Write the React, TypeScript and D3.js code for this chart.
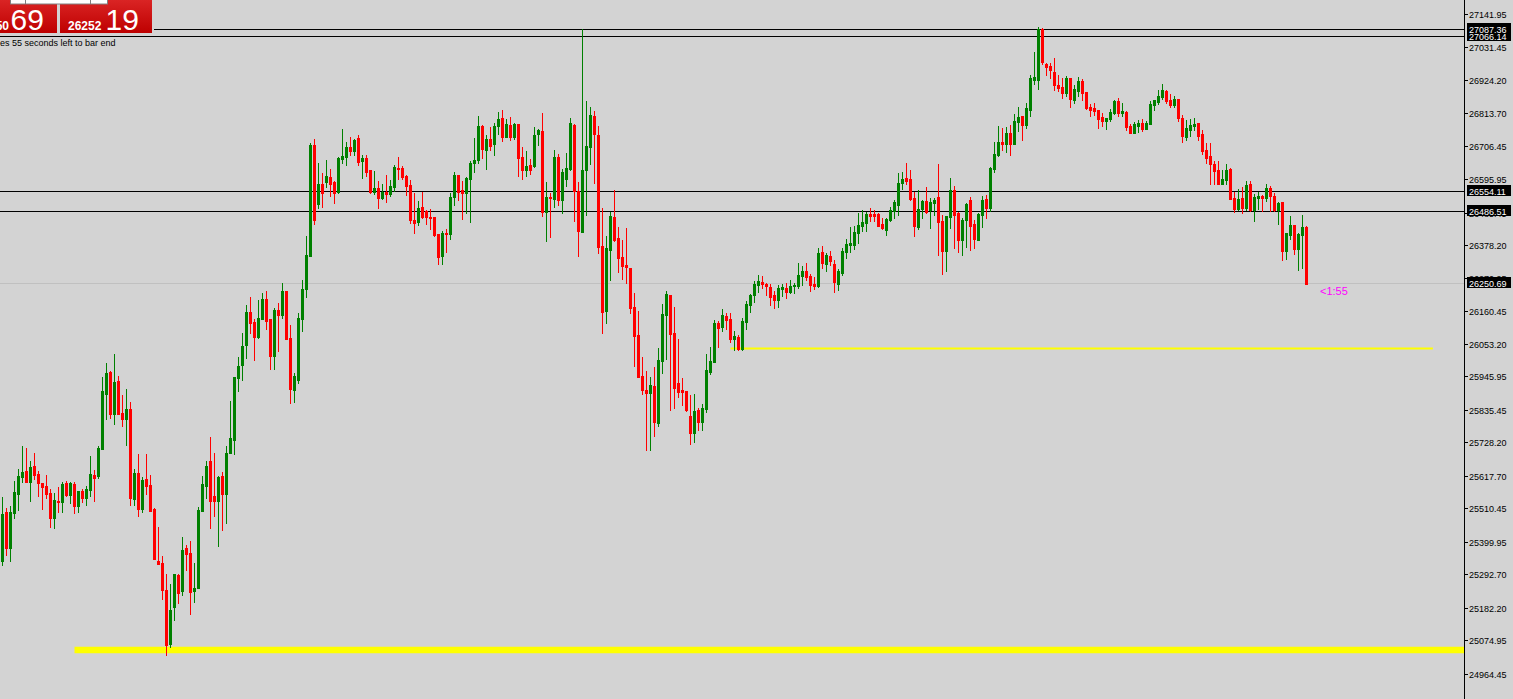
import React from 'react';
import * as d3 from 'd3';

// Each candle: [open, high, low, close]
const ohlc: [number, number, number, number][] = [
  [25337,25548,25324,25492],[25498,25512,25357,25380],[25380,25518,25337,25498],[25495,25601,25479,25564],
  [25558,25640,25505,25617],[25614,25716,25597,25630],[25634,25710,25597,25597],[25597,25667,25535,25647],
  [25650,25693,25607,25621],[25624,25634,25551,25594],[25594,25594,25508,25581],[25584,25621,25545,25558],
  [25561,25574,25449,25479],[25479,25561,25446,25538],[25535,25581,25498,25531],[25531,25597,25498,25591],
  [25594,25601,25551,25554],[25554,25597,25528,25594],[25591,25597,25495,25518],[25518,25568,25498,25568],
  [25568,25574,25531,25545],[25545,25584,25521,25574],[25571,25683,25551,25624],[25621,25637,25535,25611],
  [25617,25716,25611,25710],[25706,25944,25706,25898],[25888,25990,25805,25957],[25960,25964,25809,25822],
  [25822,26020,25789,25927],[25931,25947,25822,25822],[25825,25885,25782,25805],[25805,25904,25720,25838],
  [25838,25861,25521,25545],[25541,25640,25521,25627],[25627,25690,25485,25508],[25508,25614,25498,25604],
  [25607,25690,25558,25584],[25588,25621,25502,25502],[25508,25512,25343,25343],[25337,25449,25327,25327],
  [25330,25353,25211,25241],[25241,25294,25027,25060],[25063,25261,25053,25175],[25185,25294,25142,25294],
  [25291,25294,25198,25231],[25238,25416,25225,25373],[25380,25390,25307,25360],[25363,25403,25162,25234],
  [25238,25330,25201,25248],[25248,25515,25248,25505],[25502,25617,25502,25591],[25584,25667,25545,25650],
  [25667,25746,25446,25535],[25551,25693,25485,25535],[25535,25617,25386,25614],[25617,25630,25439,25558],
  [25558,25716,25462,25693],[25693,25865,25693,25743],[25736,25944,25690,25944],[25941,26010,25898,25980],
  [25984,26089,25934,26046],[26050,26182,26007,26158],[26158,26208,26089,26122],[26125,26135,26000,26076],
  [26076,26198,26073,26139],[26135,26221,26135,26201],[26201,26228,26102,26129],[26135,26135,25970,26013],
  [26013,26172,25970,26165],[26165,26188,26030,26149],[26149,26254,26139,26228],[26228,26228,26069,26069],
  [26073,26116,25858,25904],[25901,25957,25861,25947],[25934,26155,25924,26139],[26135,26264,26096,26234],
  [26234,26409,26208,26347],[26343,26716,26343,26710],[26710,26729,26449,26462],[26515,26650,26502,26581],
  [26581,26617,26505,26551],[26587,26660,26571,26607],[26604,26630,26541,26581],[26587,26591,26518,26551],
  [26554,26670,26551,26667],[26663,26762,26650,26673],[26670,26719,26644,26703],[26703,26736,26677,26690],
  [26690,26729,26677,26726],[26733,26743,26644,26653],[26657,26677,26601,26667],[26667,26677,26607,26620],
  [26627,26627,26551,26554],[26554,26624,26548,26568],[26568,26591,26502,26535],[26535,26581,26531,26554],
  [26554,26611,26521,26548],[26548,26594,26541,26574],[26571,26644,26558,26637],[26634,26670,26597,26630],
  [26634,26640,26597,26604],[26607,26611,26545,26574],[26578,26594,26452,26462],[26462,26551,26419,26452],
  [26455,26525,26446,26502],[26505,26554,26469,26472],[26492,26495,26449,26472],[26472,26498,26432,26469],
  [26472,26472,26409,26413],[26416,26416,26317,26340],[26343,26426,26317,26419],[26419,26432,26356,26416],
  [26416,26551,26399,26538],[26538,26620,26512,26611],[26611,26611,26528,26554],[26561,26591,26465,26551],
  [26551,26604,26485,26601],[26597,26657,26455,26650],[26650,26733,26620,26660],[26660,26805,26650,26772],
  [26772,26776,26667,26696],[26693,26743,26630,26729],[26729,26769,26693,26706],[26713,26782,26677,26772],
  [26772,26818,26746,26795],[26799,26825,26723,26736],[26736,26795,26736,26779],[26776,26802,26726,26736],
  [26736,26782,26729,26779],[26779,26779,26607,26667],[26670,26703,26597,26627],[26627,26690,26607,26640],
  [26644,26663,26614,26627],[26640,26769,26637,26743],[26746,26762,26710,26759],[26756,26815,26475,26488],
  [26488,26587,26393,26538],[26538,26551,26406,26535],[26531,26693,26505,26670],[26670,26680,26512,26528],
  [26528,26630,26485,26620],[26597,26683,26574,26634],[26630,26799,26627,26782],[26776,26779,26459,26558],
  [26558,26587,26343,26426],[26422,27092,26422,26627],[26627,26855,26479,26706],[26703,26835,26647,26809],
  [26805,26822,26584,26746],[26743,26772,26353,26373],[26376,26502,26089,26158],[26162,26409,26122,26370],
  [26363,26488,26264,26475],[26472,26561,26393,26396],[26403,26439,26290,26337],[26340,26396,26267,26310],
  [26314,26436,26254,26307],[26304,26304,26155,26172],[26175,26221,25980,26079],[26083,26162,25944,25944],
  [25947,26010,25888,25901],[25901,25964,25703,25891],[25891,25944,25703,25918],[25914,25977,25749,25795],
  [25792,26040,25782,26000],[25997,26185,25957,26152],[26149,26228,26003,26218],[26215,26215,25835,26086],
  [26089,26175,25842,25908],[25924,26069,25878,25894],[25901,25941,25852,25894],[25898,25898,25832,25835],
  [25815,25885,25723,25759],[25759,25888,25729,25832],[25835,25842,25769,25795],[25795,25855,25769,25842],
  [25838,26020,25828,25967],[25960,26043,25954,25997],[25993,26132,25993,26122],[26122,26129,26043,26106],
  [26109,26168,26096,26149],[26145,26155,26102,26132],[26135,26155,26059,26069],[26069,26096,26033,26079],
  [26076,26083,26033,26036],[26036,26139,26033,26129],[26125,26195,26102,26185],[26182,26218,26158,26215],
  [26215,26261,26191,26251],[26248,26281,26224,26261],[26257,26277,26238,26251],[26251,26254,26215,26244],
  [26241,26251,26182,26208],[26215,26228,26172,26198],[26198,26248,26175,26238],[26234,26251,26211,26241],
  [26238,26254,26205,26224],[26224,26264,26221,26244],[26244,26254,26221,26248],[26244,26320,26238,26281],
  [26277,26310,26248,26294],[26294,26320,26264,26274],[26277,26284,26228,26248],[26251,26274,26234,26244],
  [26244,26370,26241,26353],[26356,26376,26304,26320],[26317,26353,26294,26347],[26343,26360,26314,26327],
  [26317,26330,26224,26257],[26251,26300,26231,26294],[26287,26370,26281,26360],[26356,26399,26337,26383],
  [26380,26439,26356,26386],[26380,26442,26366,26422],[26419,26485,26386,26446],[26442,26495,26426,26455],
  [26452,26488,26426,26482],[26482,26502,26459,26475],[26482,26495,26459,26475],[26482,26485,26442,26442],
  [26449,26469,26432,26436],[26429,26469,26413,26465],[26462,26505,26459,26495],[26492,26528,26469,26521],
  [26512,26617,26479,26584],[26584,26620,26564,26597],[26601,26650,26581,26591],[26597,26627,26528,26531],
  [26535,26554,26409,26442],[26439,26561,26432,26498],[26498,26528,26469,26525],[26525,26571,26485,26488],
  [26495,26535,26436,26521],[26518,26535,26479,26528],[26538,26647,26347,26455],[26459,26479,26284,26360],
  [26360,26475,26294,26475],[26472,26601,26436,26561],[26561,26574,26370,26479],[26485,26488,26356,26396],
  [26396,26469,26347,26462],[26462,26518,26373,26515],[26528,26538,26363,26442],[26449,26462,26370,26399],
  [26396,26485,26396,26482],[26479,26541,26439,26528],[26531,26545,26469,26502],[26502,26637,26492,26634],
  [26630,26719,26620,26680],[26677,26772,26673,26719],[26719,26766,26693,26713],[26713,26769,26686,26749],
  [26749,26776,26677,26713],[26713,26812,26713,26789],[26785,26835,26756,26802],[26805,26805,26726,26776],
  [26776,26848,26766,26832],[26825,26941,26805,26931],[26924,27016,26911,26934],[26924,27099,26894,27092],
  [27092,27096,26977,26983],[26977,26980,26941,26967],[26970,26980,26931,26957],[26950,26997,26891,26908],
  [26908,26941,26888,26898],[26901,26931,26865,26881],[26881,26937,26871,26931],[26931,26931,26835,26861],
  [26858,26908,26848,26894],[26888,26934,26871,26921],[26921,26927,26858,26881],[26884,26884,26828,26832],
  [26835,26845,26805,26825],[26832,26848,26809,26822],[26825,26825,26766,26795],[26802,26815,26772,26789],
  [26789,26799,26762,26799],[26795,26828,26789,26818],[26815,26858,26812,26855],[26855,26865,26805,26815],
  [26815,26848,26805,26822],[26818,26822,26759,26769],[26772,26779,26749,26749],[26749,26785,26749,26779],
  [26772,26792,26752,26782],[26782,26795,26756,26762],[26762,26789,26762,26782],[26779,26855,26779,26845],
  [26842,26858,26825,26858],[26851,26891,26845,26871],[26868,26911,26861,26891],[26888,26891,26848,26855],
  [26858,26878,26835,26842],[26842,26871,26835,26861],[26861,26861,26789,26799],[26799,26809,26719,26739],
  [26736,26792,26726,26766],[26759,26795,26739,26776],[26772,26799,26759,26779],[26782,26782,26726,26739],
  [26746,26759,26680,26690],[26693,26716,26650,26667],[26673,26716,26581,26647],[26647,26657,26581,26624],
  [26627,26657,26581,26581],[26581,26627,26581,26597],[26594,26647,26581,26627],[26630,26634,26531,26531],
  [26535,26554,26488,26498],[26498,26564,26495,26531],[26535,26571,26485,26502],[26502,26591,26495,26578],
  [26581,26591,26492,26495],[26495,26548,26459,26538],[26535,26554,26498,26541],[26541,26545,26492,26535],
  [26535,26581,26525,26568],[26568,26574,26492,26541],[26541,26551,26492,26495],[26495,26521,26449,26518],
  [26521,26521,26330,26360],[26360,26419,26333,26419],[26413,26475,26399,26446],[26446,26446,26350,26366],
  [26366,26419,26297,26416],[26413,26479,26304,26439],[26439,26442,26250.69,26250.69],
];

const axisTicks = [
  27141.95, 27031.45, 26924.2, 26813.7, 26706.45, 26595.95, 26485.45, 26378.2, 26270.95, 26160.45,
  26053.2, 25945.95, 25835.45, 25728.2, 25617.7, 25510.45, 25399.95, 25292.7, 25182.2, 25074.95, 24964.45,
];

// horizontal black price lines (drawn in this order; later labels overlay earlier)
const hLines = [27066.14, 27087.36, 26554.11, 26486.51];
const bidPrice = 26250.69;

// yellow support levels: price, start bar, end bar
const yellowPrices = [26038, 25043];
const yellowFromBar = [182, 18];
const yellowToBar = [357.6, 370];

const bidText = { big: '69', small: '26250' };
const askText = { big: '19', small: '26252' };
const timerText = 'es 55 seconds left to bar end';
const countdown = '<1:55';

const BG = '#D3D3D3';
const UP = '#008000';
const DOWN = '#FF0000';
const FONT = '"Liberation Sans", Arial, sans-serif';

export default function App() {
  const W = 1513;
  const H = 699;
  const axisX = 1464;
  const x = d3.scaleLinear().domain([0, ohlc.length - 1]).range([2.5, 2.5 + 4 * (ohlc.length - 1)]);
  const y = d3.scaleLinear().domain([24964.45, 27141.95]).range([673.8, 13.95]);
  const row = (p: number) => Math.floor(y(p) - 0.9);

  const candles = ohlc.map((d, i) => {
    const [o, h, l, c] = d;
    const cx = x(i);
    const up = c >= o;
    const color = up ? UP : DOWN;
    const top = Math.round(y(Math.max(o, c)));
    const bot = Math.round(y(Math.min(o, c)));
    const wt = Math.round(y(h));
    const wb = Math.round(y(l));
    return (
      <g key={i}>
        <rect x={cx - 0.5} y={wt} width={1} height={Math.max(1, wb - wt + 1)} fill={color} />
        <rect x={cx - 1.5} y={top} width={3} height={Math.max(1, bot - top + 1)} fill={color} />
      </g>
    );
  });

  const labelBox = (p: number, key: string) => {
    const cy = row(p);
    return (
      <g key={key}>
        <rect x={1467} y={cy - 6} width={44} height={11} fill="#000" />
        <text x={1469} y={cy + 3.5} fill="#fff" fontSize={9} fontFamily={FONT}>
          {p.toFixed(2)}
        </text>
      </g>
    );
  };

  return (
    <svg
      width={W}
      height={H}
      style={{ position: 'fixed', left: 0, top: 0, display: 'block' }}
      xmlns="http://www.w3.org/2000/svg"
    >
      <defs>
        <linearGradient id="redg" x1="0" y1="0" x2="0" y2="1">
          <stop offset="0" stopColor="#DA2424" />
          <stop offset="1" stopColor="#BE0000" />
        </linearGradient>
      </defs>
      <rect x={0} y={0} width={W} height={H} fill={BG} />

      {/* bid line */}
      <line x1={0} x2={axisX} y1={row(bidPrice) + 0.5} y2={row(bidPrice) + 0.5} stroke="#C0C0C0" strokeWidth={1} />
      {/* black horizontal lines */}
      {hLines.map((p, i) => (
        <line key={i} x1={0} x2={axisX} y1={row(p) + 0.5} y2={row(p) + 0.5} stroke="#000" strokeWidth={1} />
      ))}
      {/* yellow levels */}
      {yellowPrices.map((p, i) => (
        <line
          key={i}
          x1={x(yellowFromBar[i])}
          x2={Math.min(x(yellowToBar[i]), axisX)}
          y1={y(p)}
          y2={y(p)}
          stroke="#FFFF00"
          strokeWidth={i === 0 ? 2 : 6.5}
        />
      ))}
      {candles}

      {/* price axis */}
      <line x1={axisX + 0.5} x2={axisX + 0.5} y1={0} y2={H} stroke="#000" strokeWidth={1} />
      {axisTicks.map((v, i) => {
        const ty = Math.round(y(v));
        return (
          <g key={i}>
            <line x1={axisX} x2={axisX + 4} y1={ty + 0.5} y2={ty + 0.5} stroke="#000" strokeWidth={1} />
            <text x={1469} y={ty + 4} fontSize={9} fontFamily={FONT} fill="#000">
              {v.toFixed(2)}
            </text>
          </g>
        );
      })}
      {hLines.map((p, i) => labelBox(p, 'h' + i))}
      {labelBox(bidPrice, 'bid')}

      {/* countdown */}
      <text x={1320} y={295} fontSize={11} fontFamily={FONT} fill="#FF00FF">
        {countdown}
      </text>

      {/* top-left price panel */}
      <rect x={0} y={0} width={154} height={34} fill={BG} />
      <rect x={0} y={0} width={57} height={33} fill="url(#redg)" />
      <rect x={60} y={0} width={92} height={33} fill="url(#redg)" />
      <rect x={10.5} y={-1} width={97} height={5} fill="#fff" stroke="#808080" strokeWidth={1} />
      <line x1={25.5} x2={25.5} y1={0} y2={4} stroke="#808080" />
      <line x1={90.5} x2={90.5} y1={0} y2={4} stroke="#808080" />
      <text x={9} y={30} textAnchor="end" fontSize={12} fontWeight="bold" fontFamily={FONT} fill="#fff">
        {bidText.small}
      </text>
      <text x={10.5} y={29.5} fontSize={30} fontFamily={FONT} fill="#fff">
        {bidText.big}
      </text>
      <text x={68} y={30} fontSize={12} fontWeight="bold" fontFamily={FONT} fill="#fff">
        {askText.small}
      </text>
      <text x={105.5} y={29.5} fontSize={30} fontFamily={FONT} fill="#fff">
        {askText.big}
      </text>
      <text x={0} y={45.5} fontSize={9} fontFamily={FONT} fill="#000">
        {timerText}
      </text>
    </svg>
  );
}
